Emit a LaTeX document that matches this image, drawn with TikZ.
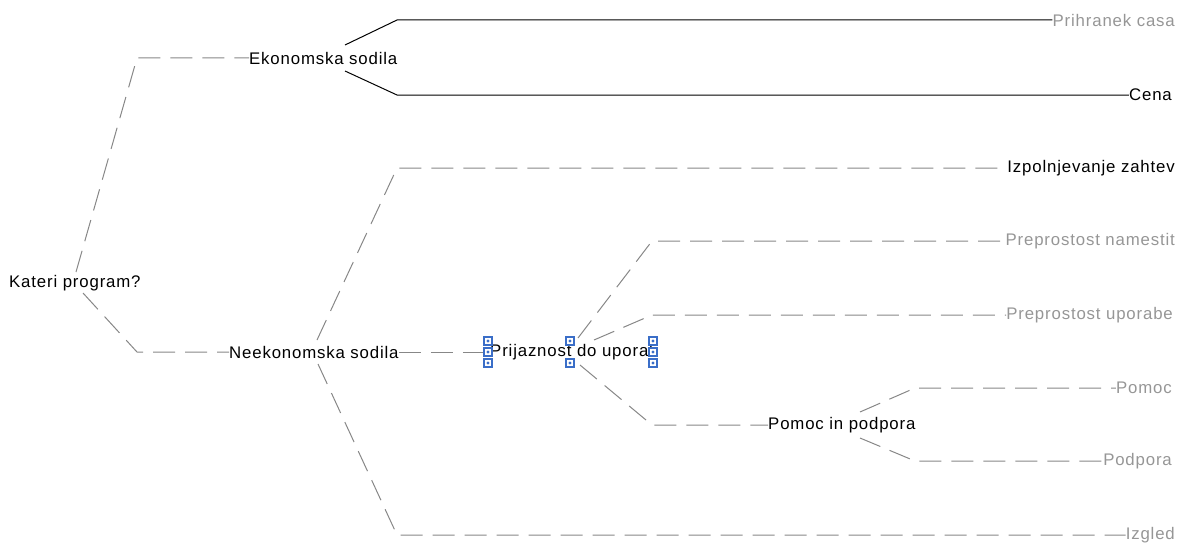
\documentclass[tikz,border=0pt]{standalone}
\usepackage{fontspec}
\setmainfont{Liberation Sans}[LetterSpace=5]
\usetikzlibrary{calc}
\definecolor{linegray}{RGB}{135,135,135}
\definecolor{leafgray}{RGB}{150,150,150}
\definecolor{gripblue}{RGB}{58,110,200}
\tikzset{
  lbl/.style={inner sep=0pt, font=\fontsize{16.8}{20}\selectfont, text=black},
  leaf/.style={lbl, text=leafgray, anchor=east},
  leafdark/.style={lbl, anchor=east},
  inner/.style={lbl, anchor=west},
  dl/.style={draw=linegray, line width=1pt, dash pattern=on 22pt off 10pt},
  sl/.style={draw=black, line width=1pt},
  grip/.style={draw=gripblue, fill=white, line width=1.6pt, minimum size=8.5pt,
    inner sep=0pt, path picture={\fill[gripblue] (path picture bounding box.center) circle (1.7pt);}}
}
\begin{document}
\begin{tikzpicture}[x=1pt,y=-1pt]
\useasboundingbox (0,0) rectangle (1178,543);

% inner nodes of the tree
\node[inner] (root)  at (9,283)   {Kateri program?};
\node[inner] (eko)   at (249,58)  {Ekonomska sodila};
\node[inner] (neeko) at (229,352) {Neekonomska sodila};
\node[inner] (prij)  at (490,352) {Prijaznost do uporab};
\node[inner] (pomin) at (768,425) {Pomoc in podpora};

% leaves
\node[leaf]     (prih)    at (1175,20)  {Prihranek casa};
\node[leafdark] (cena)    at (1172,95)  {Cena};
\node[leafdark] (izp)     at (1175,168) {Izpolnjevanje zahtev};
\node[leaf]     (prep1)   at (1175,241) {Preprostost namestit};
\node[leaf]     (prep2)   at (1173,315) {Preprostost uporabe};
\node[leaf]     (pomoc)   at (1172,388) {Pomoc};
\node[leaf]     (podpora) at (1172,461) {Podpora};
\node[leaf]     (izgled)  at (1175,535) {Izgled};

% root branches
\draw[dl] ($(root.west)+(67,-11)$) -- (137,58) -- (eko.west);
\draw[dl] ($(root.west)+(74,10)$) -- (137,352) -- (neeko.west);

% economic criteria
\draw[sl] ($(eko.west)+(96,-13)$) -- (397,20) -- (prih.west);
\draw[sl] ($(eko.west)+(96,13)$) -- (397,95) -- (cena.west);

% non-economic criteria
\draw[dl] ($(neeko.west)+(88,-12)$) -- (397,168) -- (izp.west);
\draw[dl] ($(neeko.west)+(89,12)$) -- (397,535) -- (izgled.west);
\draw[dl] (neeko.east) -- (prij.west);

% user friendliness
\draw[dl] ($(prij.west)+(88,-14)$) -- (652,241) -- (prep1.west);
\draw[dl] ($(prij.west)+(104,-12)$) -- (652,315) -- (prep2.west);
\draw[dl] ($(prij.west)+(90,13)$) -- (652,425) -- (pomin.west);

% help and support
\draw[dl] ($(pomin.west)+(92,-13)$) -- (915,388) -- (pomoc.west);
\draw[dl] ($(pomin.west)+(92,13)$) -- (915,461) -- (podpora.west);

% selection grips around the selected node
\node[grip] (g1) at ($(prij.west)+(-2,-11)$) {};
\node[grip] (g2) at ($(prij.west)+(-2,0)$) {};
\node[grip] (g3) at ($(prij.west)+(-2,11)$) {};
\node[grip] (g4) at ($(prij.west)+(80,-11)$) {};
\node[grip] (g5) at ($(prij.west)+(80,11)$) {};
\node[grip] (g6) at ($(prij.west)+(163,-11)$) {};
\node[grip] (g7) at ($(prij.west)+(163,0)$) {};
\node[grip] (g8) at ($(prij.west)+(163,11)$) {};
\end{tikzpicture}
\end{document}
